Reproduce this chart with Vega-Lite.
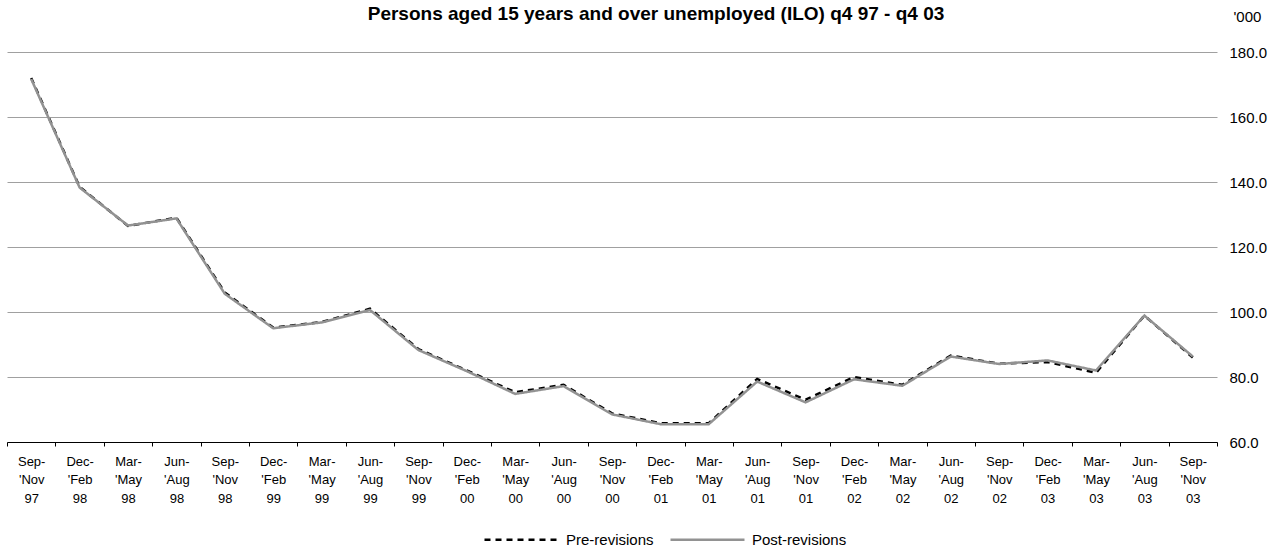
{
  "$schema": "https://vega.github.io/schema/vega-lite/v6.json",
  "autosize": {"type": "none"},
  "width": 1210,
  "height": 390,
  "padding": {"left": 7, "top": 52, "right": 66, "bottom": 106},
  "background": "white",
  "config": {
    "view": {"stroke": null},
    "font": "Liberation Sans",
    "axis": {"labelFont": "Liberation Sans", "titleFont": "Liberation Sans"}
  },
  "title": {
    "text": "Persons aged 15 years and over unemployed (ILO) q4 97 - q4 03",
    "font": "Liberation Sans",
    "fontSize": 19,
    "fontWeight": "bold",
    "color": "black",
    "anchor": "middle",
    "dx": 44,
    "offset": -15
  },
  "datasets": {
    "d": [
      {"period": "Sep-|'Nov|97", "series": "Pre-revisions", "value": 172.0},
      {"period": "Dec-|'Feb|98", "series": "Pre-revisions", "value": 138.5},
      {"period": "Mar-|'May|98", "series": "Pre-revisions", "value": 126.5},
      {"period": "Jun-|'Aug|98", "series": "Pre-revisions", "value": 129.0},
      {"period": "Sep-|'Nov|98", "series": "Pre-revisions", "value": 106.0},
      {"period": "Dec-|'Feb|99", "series": "Pre-revisions", "value": 95.2},
      {"period": "Mar-|'May|99", "series": "Pre-revisions", "value": 96.9},
      {"period": "Jun-|'Aug|99", "series": "Pre-revisions", "value": 101.0},
      {"period": "Sep-|'Nov|99", "series": "Pre-revisions", "value": 88.6},
      {"period": "Dec-|'Feb|00", "series": "Pre-revisions", "value": 82.0},
      {"period": "Mar-|'May|00", "series": "Pre-revisions", "value": 75.3},
      {"period": "Jun-|'Aug|00", "series": "Pre-revisions", "value": 77.6},
      {"period": "Sep-|'Nov|00", "series": "Pre-revisions", "value": 68.8},
      {"period": "Dec-|'Feb|01", "series": "Pre-revisions", "value": 65.8},
      {"period": "Mar-|'May|01", "series": "Pre-revisions", "value": 65.8},
      {"period": "Jun-|'Aug|01", "series": "Pre-revisions", "value": 79.4},
      {"period": "Sep-|'Nov|01", "series": "Pre-revisions", "value": 73.0},
      {"period": "Dec-|'Feb|02", "series": "Pre-revisions", "value": 80.0},
      {"period": "Mar-|'May|02", "series": "Pre-revisions", "value": 77.6},
      {"period": "Jun-|'Aug|02", "series": "Pre-revisions", "value": 86.6},
      {"period": "Sep-|'Nov|02", "series": "Pre-revisions", "value": 84.1},
      {"period": "Dec-|'Feb|03", "series": "Pre-revisions", "value": 84.6},
      {"period": "Mar-|'May|03", "series": "Pre-revisions", "value": 81.3},
      {"period": "Jun-|'Aug|03", "series": "Pre-revisions", "value": 98.9},
      {"period": "Sep-|'Nov|03", "series": "Pre-revisions", "value": 86.0},
      {"period": "Sep-|'Nov|97", "series": "Post-revisions", "value": 171.7},
      {"period": "Dec-|'Feb|98", "series": "Post-revisions", "value": 138.3},
      {"period": "Mar-|'May|98", "series": "Post-revisions", "value": 126.6},
      {"period": "Jun-|'Aug|98", "series": "Post-revisions", "value": 128.8},
      {"period": "Sep-|'Nov|98", "series": "Post-revisions", "value": 105.6},
      {"period": "Dec-|'Feb|99", "series": "Post-revisions", "value": 95.0},
      {"period": "Mar-|'May|99", "series": "Post-revisions", "value": 96.8},
      {"period": "Jun-|'Aug|99", "series": "Post-revisions", "value": 100.6},
      {"period": "Sep-|'Nov|99", "series": "Post-revisions", "value": 88.3},
      {"period": "Dec-|'Feb|00", "series": "Post-revisions", "value": 81.8},
      {"period": "Mar-|'May|00", "series": "Post-revisions", "value": 74.8},
      {"period": "Jun-|'Aug|00", "series": "Post-revisions", "value": 77.2},
      {"period": "Sep-|'Nov|00", "series": "Post-revisions", "value": 68.5},
      {"period": "Dec-|'Feb|01", "series": "Post-revisions", "value": 65.5},
      {"period": "Mar-|'May|01", "series": "Post-revisions", "value": 65.5},
      {"period": "Jun-|'Aug|01", "series": "Post-revisions", "value": 78.6},
      {"period": "Sep-|'Nov|01", "series": "Post-revisions", "value": 72.2},
      {"period": "Dec-|'Feb|02", "series": "Post-revisions", "value": 79.3},
      {"period": "Mar-|'May|02", "series": "Post-revisions", "value": 77.3},
      {"period": "Jun-|'Aug|02", "series": "Post-revisions", "value": 86.3},
      {"period": "Sep-|'Nov|02", "series": "Post-revisions", "value": 84.0},
      {"period": "Dec-|'Feb|03", "series": "Post-revisions", "value": 85.1},
      {"period": "Mar-|'May|03", "series": "Post-revisions", "value": 82.0},
      {"period": "Jun-|'Aug|03", "series": "Post-revisions", "value": 98.9},
      {"period": "Sep-|'Nov|03", "series": "Post-revisions", "value": 86.3}
    ]
  },
  "data": {"name": "d"},
  "encoding": {
    "x": {
      "field": "period",
      "type": "nominal",
      "sort": null,
      "bandPosition": 0.5,
      "scale": {"type": "band", "paddingInner": 0, "paddingOuter": 0},
      "axis": {
        "title": null,
        "labelAngle": 0,
        "labelExpr": "split(datum.label, '|')",
        "labelFontSize": 13,
        "labelLineHeight": 18.5,
        "labelColor": "black",
        "labelPadding": 9,
        "tickBand": "extent",
        "tickSize": 4,
        "tickColor": "black",
        "domainColor": "black",
        "domainWidth": 1,
        "grid": false,
        "labelBaseline": "top"
      }
    },
    "y": {
      "field": "value",
      "type": "quantitative",
      "scale": {"domain": [60, 180], "nice": false, "zero": false},
      "axis": {
        "orient": "right",
        "values": [60, 80, 100, 120, 140, 160, 180],
        "format": ".1f",
        "domain": false,
        "ticks": false,
        "grid": true,
        "gridColor": "#a0a0a0",
        "gridWidth": 1,
        "labelFontSize": 15,
        "labelColor": "black",
        "labelPadding": 12,
        "title": "'000",
        "titleAngle": 0,
        "titleAlign": "left",
        "titleBaseline": "alphabetic",
        "titleFontSize": 15,
        "titleFontWeight": "normal",
        "titleColor": "black",
        "titleX": 16,
        "titleY": -31
      }
    },
    "color": {
      "field": "series",
      "type": "nominal",
      "scale": {"domain": ["Pre-revisions", "Post-revisions"], "range": ["black", "#929292"]},
      "legend": {
        "title": null,
        "orient": "none",
        "direction": "horizontal",
        "legendX": 476,
        "legendY": 449,
        "symbolType": "stroke",
        "symbolSize": 5476,
        "symbolStrokeWidth": 2.5,
        "labelFontSize": 15,
        "labelColor": "black",
        "labelOffset": 6,
        "columnPadding": 11
      }
    },
    "strokeDash": {
      "field": "series",
      "type": "nominal",
      "scale": {"domain": ["Pre-revisions", "Post-revisions"], "range": [[6, 5], [1, 0]]},
      "legend": null
    }
  },
  "layer": [
    {
      "transform": [{"filter": "datum.series == 'Pre-revisions'"}],
      "mark": {"type": "line", "strokeWidth": 2.5}
    },
    {
      "transform": [{"filter": "datum.series == 'Post-revisions'"}],
      "mark": {"type": "line", "strokeWidth": 2.5}
    }
  ]
}
